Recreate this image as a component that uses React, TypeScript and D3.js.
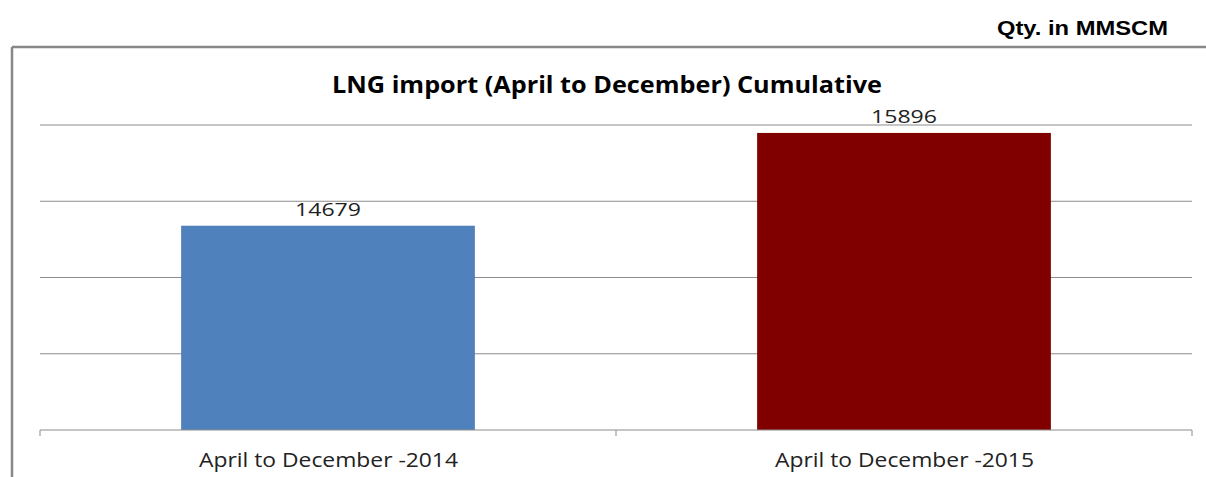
import { useMemo } from "react";
import * as d3 from "d3";

const categories = ["April to December -2014", "April to December -2015"];
const values = [14679, 15896];
const barColors = ["#4F81BD", "#800000"];
const yTicks = [12000, 13000, 14000, 15000, 16000];

const W = 1206;
const H = 477;

export default function App() {
  const margins = { left: 40, right: 14, top: 125, bottom: 47 };
  const boundedWidth = W - margins.left - margins.right;
  const boundedHeight = H - margins.top - margins.bottom;

  const xScale = useMemo(
    () =>
      d3
        .scaleBand<string>()
        .domain(categories)
        .range([0, boundedWidth])
        .paddingInner(0.49)
        .paddingOuter(0.245),
    [boundedWidth]
  );

  const yScale = useMemo(
    () => d3.scaleLinear().domain([12000, 16000]).range([boundedHeight, 0]),
    [boundedHeight]
  );

  const step = xScale.step();

  return (
    <svg
      width={W}
      height={H}
      style={{ position: "absolute", left: 0, top: 0, background: "#fff" }}
      fontFamily="'Open Sans', sans-serif"
    >
      {/* outer frame */}
      <line x1={12} y1={47} x2={W} y2={47} stroke="#888" strokeWidth={2.5} />
      <line x1={12} y1={47} x2={12} y2={H} stroke="#888" strokeWidth={2.5} />

      <text
        x={997}
        y={35}
        fontSize={20}
        fontWeight="bold"
        fontFamily="'Liberation Sans', sans-serif"
        fill="#000"
        textLength={171}
        lengthAdjust="spacingAndGlyphs"
      >
        Qty. in MMSCM
      </text>

      <text
        x={332}
        y={93}
        fontSize={23}
        fontWeight="bold"
        fill="#000"
        textLength={550}
        lengthAdjust="spacingAndGlyphs"
      >
        LNG import (April to December) Cumulative
      </text>

      <g transform={`translate(${margins.left},${margins.top})`}>
        {yTicks.slice(1).map((t) => (
          <line
            key={t}
            x1={0}
            x2={boundedWidth}
            y1={yScale(t)}
            y2={yScale(t)}
            stroke="#8c8c8c"
            strokeWidth={1}
          />
        ))}

        {categories.map((c, i) => (
          <rect
            key={c}
            x={xScale(c)}
            y={yScale(values[i])}
            width={xScale.bandwidth()}
            height={boundedHeight - yScale(values[i])}
            fill={barColors[i]}
          />
        ))}

        {/* axis baseline with ticks */}
        <line x1={0} x2={boundedWidth} y1={boundedHeight} y2={boundedHeight} stroke="#8c8c8c" />
        {[0, 1, 2].map((k) => (
          <line
            key={k}
            x1={k * step}
            x2={k * step}
            y1={boundedHeight}
            y2={boundedHeight + 6}
            stroke="#8c8c8c"
          />
        ))}

        {categories.map((c, i) => (
          <text
            key={c + "v"}
            x={(xScale(c) ?? 0) + xScale.bandwidth() / 2 - 33}
            y={yScale(values[i]) - 10}
            fontSize={18}
            fill="#222"
            textLength={66}
            lengthAdjust="spacingAndGlyphs"
          >
            {values[i]}
          </text>
        ))}

        {categories.map((c) => (
          <text
            key={c + "l"}
            x={(xScale(c) ?? 0) + xScale.bandwidth() / 2 - 129}
            y={boundedHeight + 37}
            fontSize={20}
            fill="#222"
            textLength={259}
            lengthAdjust="spacingAndGlyphs"
          >
            {c}
          </text>
        ))}
      </g>
    </svg>
  );
}
